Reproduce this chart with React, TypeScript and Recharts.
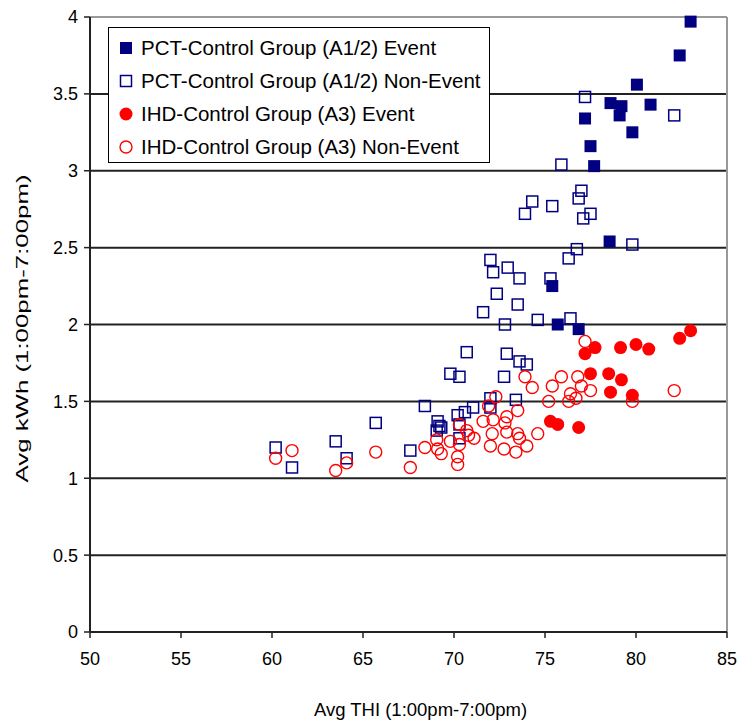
import {
  ScatterChart,
  Scatter,
  XAxis,
  YAxis,
  CartesianGrid,
  Legend,
  ReferenceLine,
  Label,
} from "recharts";

// [Avg THI, Avg kWh]
const pctEvent = [
  [83.0, 3.97], [82.4, 3.75], [80.05, 3.56], [78.6, 3.44], [79.2, 3.42],
  [79.1, 3.36], [80.8, 3.43], [77.2, 3.34], [79.8, 3.25], [77.5, 3.16],
  [77.7, 3.03], [78.55, 2.54], [75.4, 2.25], [75.7, 2.0], [76.85, 1.97],
];

const pctNonEvent = [
  [77.2, 3.48], [82.1, 3.36], [75.9, 3.04], [77.0, 2.87], [76.85, 2.82],
  [74.3, 2.8], [75.4, 2.77], [73.9, 2.72], [77.5, 2.72], [77.1, 2.69],
  [79.8, 2.52], [76.75, 2.49], [76.3, 2.43], [72.0, 2.42], [72.95, 2.37],
  [72.15, 2.34], [73.6, 2.3], [75.3, 2.3], [72.35, 2.2], [73.5, 2.13],
  [71.6, 2.08], [72.8, 2.0], [74.6, 2.03], [76.4, 2.04], [70.7, 1.82],
  [72.9, 1.81], [73.6, 1.76], [74.0, 1.74], [69.8, 1.68], [70.3, 1.66],
  [72.75, 1.66], [72.0, 1.52], [73.4, 1.51], [71.05, 1.46], [70.6, 1.43],
  [70.2, 1.41], [72.0, 1.46], [68.4, 1.47], [69.1, 1.37], [69.2, 1.34],
  [69.05, 1.31], [69.3, 1.33], [70.3, 1.35], [70.3, 1.26], [67.6, 1.18],
  [60.2, 1.2], [61.1, 1.07], [63.5, 1.24], [64.1, 1.13], [65.7, 1.36],
];

const ihdEvent = [
  [83.0, 1.96], [82.4, 1.91], [80.0, 1.87], [80.7, 1.84], [79.15, 1.85],
  [77.75, 1.85], [77.2, 1.81], [77.5, 1.68], [78.5, 1.68], [79.2, 1.64],
  [78.6, 1.56], [79.8, 1.54], [75.3, 1.37], [75.7, 1.35], [76.85, 1.33],
];

const ihdNonEvent = [
  [77.2, 1.89], [73.9, 1.66], [74.3, 1.59], [75.9, 1.66], [75.4, 1.6],
  [76.8, 1.66], [77.0, 1.6], [77.5, 1.57], [76.4, 1.55], [76.7, 1.52],
  [76.3, 1.5], [75.2, 1.5], [82.1, 1.57], [79.8, 1.5], [72.3, 1.53],
  [71.9, 1.47], [73.5, 1.44], [72.9, 1.4], [72.15, 1.38], [71.6, 1.37],
  [72.8, 1.36], [72.1, 1.29], [72.9, 1.3], [73.5, 1.29], [74.6, 1.29],
  [73.6, 1.26], [72.0, 1.21], [74.0, 1.21], [72.75, 1.19], [73.4, 1.17],
  [70.3, 1.35], [70.7, 1.31], [70.8, 1.28], [71.1, 1.26], [69.8, 1.24],
  [70.3, 1.22], [69.05, 1.25], [69.1, 1.19], [69.3, 1.16], [68.4, 1.2],
  [70.2, 1.14], [70.2, 1.09], [67.6, 1.07], [60.2, 1.13], [61.1, 1.18],
  [64.1, 1.1], [63.5, 1.05], [65.7, 1.17],
];

const xTicks = [50, 55, 60, 65, 70, 75, 80, 85];
const yTicks = [0, 0.5, 1, 1.5, 2, 2.5, 3, 3.5, 4];

const seriesNames = [
  "PCT-Control Group (A1/2) Event",
  "PCT-Control Group (A1/2) Non-Event",
  "IHD-Control Group (A3) Event",
  "IHD-Control Group (A3) Non-Event",
];

const NAVY = "#000080";
const RED = "#ff0000";
const FONT = "'Liberation Sans', Arial, sans-serif";

const toPoints = (rows: number[][]) => rows.map(([thi, kwh]) => ({ thi, kwh }));

// marker shapes, placed at the cx/cy the library computes
const FilledSquare = (p: any) => (
  <rect x={p.cx - 6} y={p.cy - 6} width={12} height={12} fill={NAVY} />
);
const OpenSquare = (p: any) => (
  <rect x={p.cx - 5.5} y={p.cy - 5.5} width={11} height={11} fill="none" stroke={NAVY} strokeWidth={1.5} />
);
const FilledCircle = (p: any) => <circle cx={p.cx} cy={p.cy} r={6.5} fill={RED} />;
const OpenCircle = (p: any) => (
  <circle cx={p.cx} cy={p.cy} r={6} fill="none" stroke={RED} strokeWidth={1.4} />
);

const markerIcons = [
  <rect x={2} y={2} width={12} height={12} fill={NAVY} />,
  <rect x={2.5} y={2.5} width={11} height={11} fill="none" stroke={NAVY} strokeWidth={1.5} />,
  <circle cx={8} cy={8} r={6.5} fill={RED} />,
  <circle cx={8} cy={8} r={6} fill="none" stroke={RED} strokeWidth={1.4} />,
];

const LegendBox = () => (
  <div
    style={{
      border: "1px solid #000",
      background: "#fff",
      boxSizing: "border-box",
      width: 382,
      height: 136,
      padding: "3px 0 0 9px",
      fontFamily: FONT,
      fontSize: 20.5,
      color: "#000",
      whiteSpace: "nowrap",
    }}
  >
    {seriesNames.map((name, i) => (
      <div key={name} style={{ display: "flex", alignItems: "center", height: 33 }}>
        <svg width={16} height={16} style={{ marginRight: 7, flexShrink: 0 }}>
          {markerIcons[i]}
        </svg>
        <span>{name}</span>
      </div>
    ))}
  </div>
);

export default function App() {
  const tick = { fill: "#000", fontSize: 18, fontFamily: FONT };
  return (
    <div style={{ position: "absolute", left: 0, top: 0, background: "#fff" }}>
      <ScatterChart width={739} height={725} margin={{ top: 17, right: 12, bottom: 0, left: 0 }}>
        <CartesianGrid vertical={false} stroke="#222" strokeWidth={2} />
        <XAxis
          type="number"
          dataKey="thi"
          domain={[50, 85]}
          ticks={xTicks}
          height={93}
          tick={tick}
          tickSize={6}
          tickMargin={14}
          axisLine={{ stroke: "#222", strokeWidth: 2 }}
          tickLine={{ stroke: "#222", strokeWidth: 1.5 }}
        >
          <Label
            content={({ viewBox }: any) => (
              <text
                x={viewBox.x + viewBox.width / 2 + 12}
                y={viewBox.y + viewBox.height - 9}
                textAnchor="middle"
                fontFamily={FONT}
                fontSize={18.5}
                fill="#000"
              >
                Avg THI (1:00pm-7:00pm)
              </text>
            )}
          />
        </XAxis>
        <YAxis
          type="number"
          dataKey="kwh"
          domain={[0, 4]}
          ticks={yTicks}
          width={90}
          tick={tick}
          tickSize={6}
          tickMargin={6}
          axisLine={{ stroke: "#222", strokeWidth: 2 }}
          tickLine={{ stroke: "#222", strokeWidth: 1.5 }}
        >
          <Label
            content={({ viewBox }: any) => {
              const x = viewBox.x + 22;
              const y = viewBox.y + viewBox.height / 2 + 4;
              return (
                <text
                  x={x}
                  y={y}
                  transform={`rotate(-90, ${x}, ${y})`}
                  textAnchor="middle"
                  dominantBaseline="central"
                  fontFamily={FONT}
                  fontSize={17}
                  textLength={308}
                  lengthAdjust="spacingAndGlyphs"
                  fill="#000"
                >
                  Avg kWh (1:00pm-7:00pm)
                </text>
              );
            }}
          />
        </YAxis>
        <ReferenceLine y={4} stroke="#999" strokeWidth={2} />
        <ReferenceLine x={85} stroke="#999" strokeWidth={2} />
        <Legend
          layout="vertical"
          align="center"
          verticalAlign="middle"
          content={<LegendBox />}
          wrapperStyle={{ left: 108, top: 27, width: 382, height: 136 }}
        />
        <Scatter name={seriesNames[0]} data={toPoints(pctEvent)} shape={FilledSquare} isAnimationActive={false} />
        <Scatter name={seriesNames[1]} data={toPoints(pctNonEvent)} shape={OpenSquare} isAnimationActive={false} />
        <Scatter name={seriesNames[2]} data={toPoints(ihdEvent)} shape={FilledCircle} isAnimationActive={false} />
        <Scatter name={seriesNames[3]} data={toPoints(ihdNonEvent)} shape={OpenCircle} isAnimationActive={false} />
      </ScatterChart>
    </div>
  );
}
